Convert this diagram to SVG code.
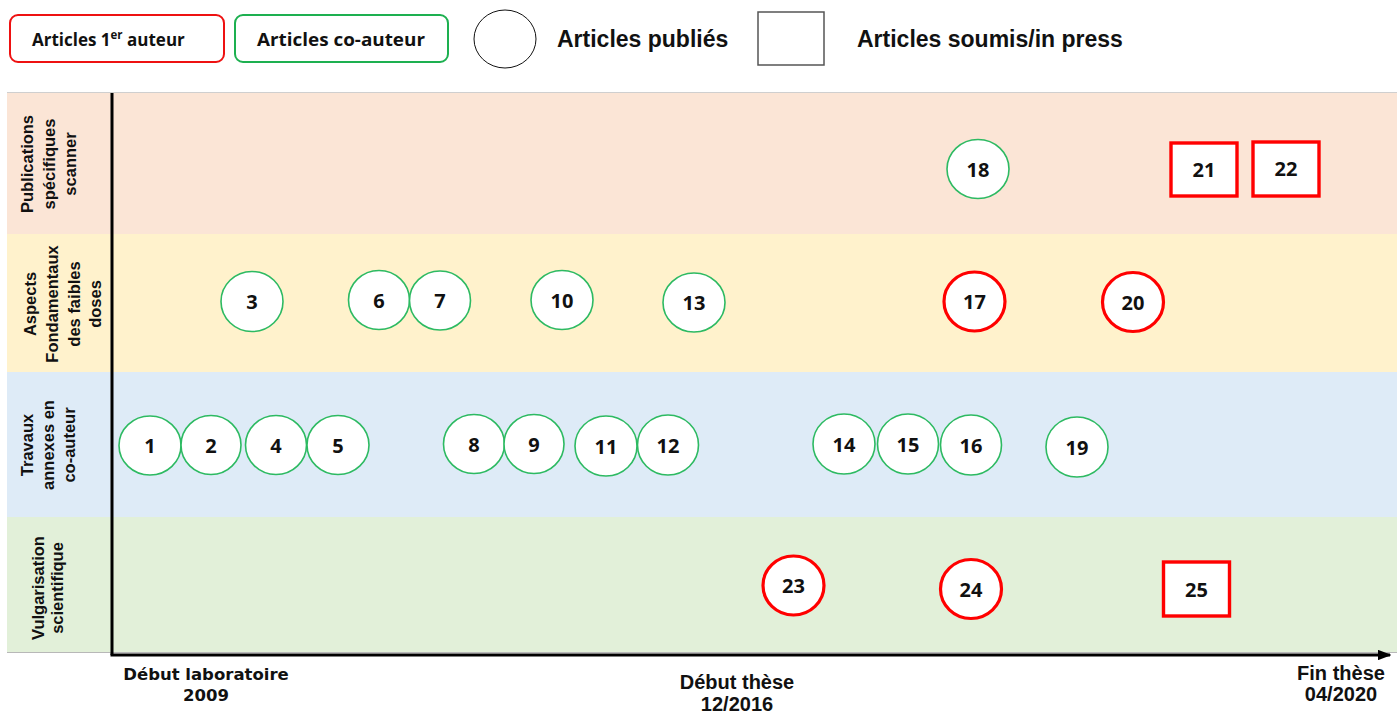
<svg xmlns="http://www.w3.org/2000/svg" width="1400" height="713" viewBox="0 0 1400 713">
<style>
.bg{fill:#ffffff}
.pub-green{fill:#ffffff;stroke:#2dba62;stroke-width:1.6}
.pub-red{fill:#ffffff;stroke:#ff0000;stroke-width:3.2}
.sub-red{fill:#ffffff;stroke:#ff0000;stroke-width:3.4}
.num{font-family:"Open Sans","Noto Sans",sans-serif;font-weight:700;font-size:20px;fill:#111;text-anchor:middle}
.leg{font-family:"Open Sans","Noto Sans",sans-serif;font-weight:700;font-size:18px;fill:#111}
.leg2{font-family:"Liberation Sans",Arial,sans-serif;font-weight:700;font-size:23px;fill:#111}
.row{font-family:"Liberation Sans",Arial,sans-serif;font-weight:700;font-size:16.5px;fill:#111;text-anchor:middle}
.axl{font-family:"DejaVu Sans",Verdana,sans-serif;font-weight:700;font-size:16.5px;fill:#111;text-anchor:middle}
.axr{font-family:"Liberation Sans",Arial,sans-serif;font-weight:700;font-size:20px;fill:#111;text-anchor:middle}
.axis{stroke:#000;stroke-width:3;fill:none}
</style>
<defs>
<marker id="arrow" viewBox="0 0 10 10" refX="9" refY="5" markerWidth="4.5" markerHeight="3.5" orient="auto" markerUnits="strokeWidth" preserveAspectRatio="none">
<path d="M0,0 L10,5 L0,10 z" fill="#000"/>
</marker>
</defs>
<rect class="bg" x="0" y="0" width="1400" height="713"/>

<g id="legend">
<g id="legend-first-author">
<rect x="10" y="15" width="214" height="47" rx="8" ry="8" fill="#fff" stroke="#ee1111" stroke-width="2"/>
<text class="leg" x="32" y="46" style="font-size:17px">Articles 1<tspan font-size="11.5" dy="-7">er</tspan><tspan dy="7"> auteur</tspan></text>
</g>
<g id="legend-co-author">
<rect x="235" y="15" width="213" height="47" rx="8" ry="8" fill="#fff" stroke="#1db050" stroke-width="2"/>
<text class="leg" x="257" y="46" textLength="168" lengthAdjust="spacingAndGlyphs">Articles co-auteur</text>
</g>
<g id="legend-published">
<ellipse cx="505" cy="39" rx="31" ry="29" fill="#fff" stroke="#111" stroke-width="1"/>
<text class="leg2" x="557" y="47">Articles publiés</text>
</g>
<g id="legend-submitted">
<rect x="758" y="12" width="66" height="53" fill="#fff" stroke="#555" stroke-width="1.5"/>
<text class="leg2" x="857" y="47">Articles soumis/in press</text>
</g>
</g>

<g id="bands">
<rect x="7" y="93" width="1390" height="141" fill="#fbe5d6"/>
<rect x="7" y="234" width="1390" height="138" fill="#fff2cc"/>
<rect x="7" y="372" width="1390" height="145" fill="#deebf7"/>
<rect x="7" y="517" width="1390" height="136" fill="#e2f0d9"/>
<line x1="7" y1="92.5" x2="1397" y2="92.5" stroke="#cfcfcf" stroke-width="1"/>
<line x1="7" y1="652.5" x2="1397" y2="652.5" stroke="#b8b8b8" stroke-width="1"/>
</g>

<g id="row-labels">
<g id="label-scanner" transform="translate(0,164)">
<text class="row" transform="translate(33,0) rotate(-90)">Publications</text>
<text class="row" transform="translate(55,0) rotate(-90)">spécifiques</text>
<text class="row" transform="translate(76,0) rotate(-90)">scanner</text>
</g>
<g id="label-fondamentaux" transform="translate(0,304)">
<text class="row" transform="translate(36,0) rotate(-90)">Aspects</text>
<text class="row" transform="translate(58,0) rotate(-90)">Fondamentaux</text>
<text class="row" transform="translate(80,0) rotate(-90)">des faibles</text>
<text class="row" transform="translate(101,0) rotate(-90)">doses</text>
</g>
<g id="label-travaux" transform="translate(0,445)">
<text class="row" transform="translate(33,0) rotate(-90)">Travaux</text>
<text class="row" transform="translate(54,0) rotate(-90)">annexes en</text>
<text class="row" transform="translate(75,0) rotate(-90)">co-auteur</text>
</g>
<g id="label-vulgarisation" transform="translate(0,588)">
<text class="row" transform="translate(44,0) rotate(-90)">Vulgarisation</text>
<text class="row" transform="translate(63,0) rotate(-90)">scientifique</text>
</g>
</g>

<g id="connectors">
<line class="axis" x1="112" y1="93" x2="112" y2="655"/>
<line class="axis" x1="110.5" y1="655" x2="1390" y2="655" marker-end="url(#arrow)"/>
</g>

<g id="axis-labels">
<text class="axl" x="206" y="680">Début laboratoire</text>
<text class="axl" x="206" y="701">2009</text>
<text class="axr" x="737" y="689">Début thèse</text>
<text class="axr" x="737" y="711">12/2016</text>
<text class="axr" x="1341" y="680">Fin thèse</text>
<text class="axr" x="1341" y="701">04/2020</text>
</g>

<g id="n1"><ellipse class="pub-green" cx="150" cy="445.5" rx="31" ry="29.5"/><text class="num" x="150" y="453">1</text></g>
<g id="n2"><ellipse class="pub-green" cx="211" cy="445" rx="30" ry="29.5"/><text class="num" x="211" y="452.5">2</text></g>
<g id="n3"><ellipse class="pub-green" cx="252" cy="301.5" rx="31" ry="30"/><text class="num" x="252" y="309">3</text></g>
<g id="n4"><ellipse class="pub-green" cx="276" cy="445" rx="30.5" ry="29.5"/><text class="num" x="276" y="452.5">4</text></g>
<g id="n5"><ellipse class="pub-green" cx="338" cy="445" rx="31" ry="29.5"/><text class="num" x="338" y="452.5">5</text></g>
<g id="n6"><ellipse class="pub-green" cx="379" cy="300" rx="30.5" ry="29.5"/><text class="num" x="379" y="307.5">6</text></g>
<g id="n7"><ellipse class="pub-green" cx="440" cy="300.5" rx="30.5" ry="29.5"/><text class="num" x="440" y="308">7</text></g>
<g id="n8"><ellipse class="pub-green" cx="474" cy="444" rx="30.5" ry="29.5"/><text class="num" x="474" y="451.5">8</text></g>
<g id="n9"><ellipse class="pub-green" cx="534" cy="444" rx="30" ry="29.5"/><text class="num" x="534" y="451.5">9</text></g>
<g id="n10"><ellipse class="pub-green" cx="562" cy="300" rx="31" ry="29.5"/><text class="num" x="562" y="307.5">10</text></g>
<g id="n11"><ellipse class="pub-green" cx="606" cy="446" rx="31" ry="30"/><text class="num" x="606" y="453.5">11</text></g>
<g id="n12"><ellipse class="pub-green" cx="668" cy="445" rx="30.5" ry="30"/><text class="num" x="668" y="452.5">12</text></g>
<g id="n13"><ellipse class="pub-green" cx="694" cy="302.5" rx="31" ry="29.5"/><text class="num" x="694" y="310">13</text></g>
<g id="n14"><ellipse class="pub-green" cx="844" cy="444" rx="31" ry="30"/><text class="num" x="844" y="451.5">14</text></g>
<g id="n15"><ellipse class="pub-green" cx="908" cy="444" rx="30.5" ry="30"/><text class="num" x="908" y="451.5">15</text></g>
<g id="n16"><ellipse class="pub-green" cx="971" cy="445" rx="30.5" ry="30"/><text class="num" x="971" y="452.5">16</text></g>
<g id="n17"><ellipse class="pub-red" cx="974.5" cy="301.5" rx="30.5" ry="29.5"/><text class="num" x="974.5" y="309">17</text></g>
<g id="n18"><ellipse class="pub-green" cx="978" cy="169" rx="31" ry="29.5"/><text class="num" x="978" y="176.5">18</text></g>
<g id="n19"><ellipse class="pub-green" cx="1077" cy="447" rx="31" ry="30"/><text class="num" x="1077" y="454.5">19</text></g>
<g id="n20"><ellipse class="pub-red" cx="1133" cy="302" rx="30.5" ry="29.5"/><text class="num" x="1133" y="309.5">20</text></g>
<g id="n21"><rect class="sub-red" x="1171" y="143" width="66" height="53"/><text class="num" x="1204" y="177">21</text></g>
<g id="n22"><rect class="sub-red" x="1253" y="142" width="66" height="54"/><text class="num" x="1286" y="176">22</text></g>
<g id="n23"><ellipse class="pub-red" cx="793.5" cy="585.5" rx="30.5" ry="29.5"/><text class="num" x="793.5" y="593">23</text></g>
<g id="n24"><ellipse class="pub-red" cx="971" cy="589" rx="30.5" ry="29.5"/><text class="num" x="971" y="596.5">24</text></g>
<g id="n25"><rect class="sub-red" x="1163.5" y="562" width="66" height="54"/><text class="num" x="1196.5" y="596.5">25</text></g>
</svg>
